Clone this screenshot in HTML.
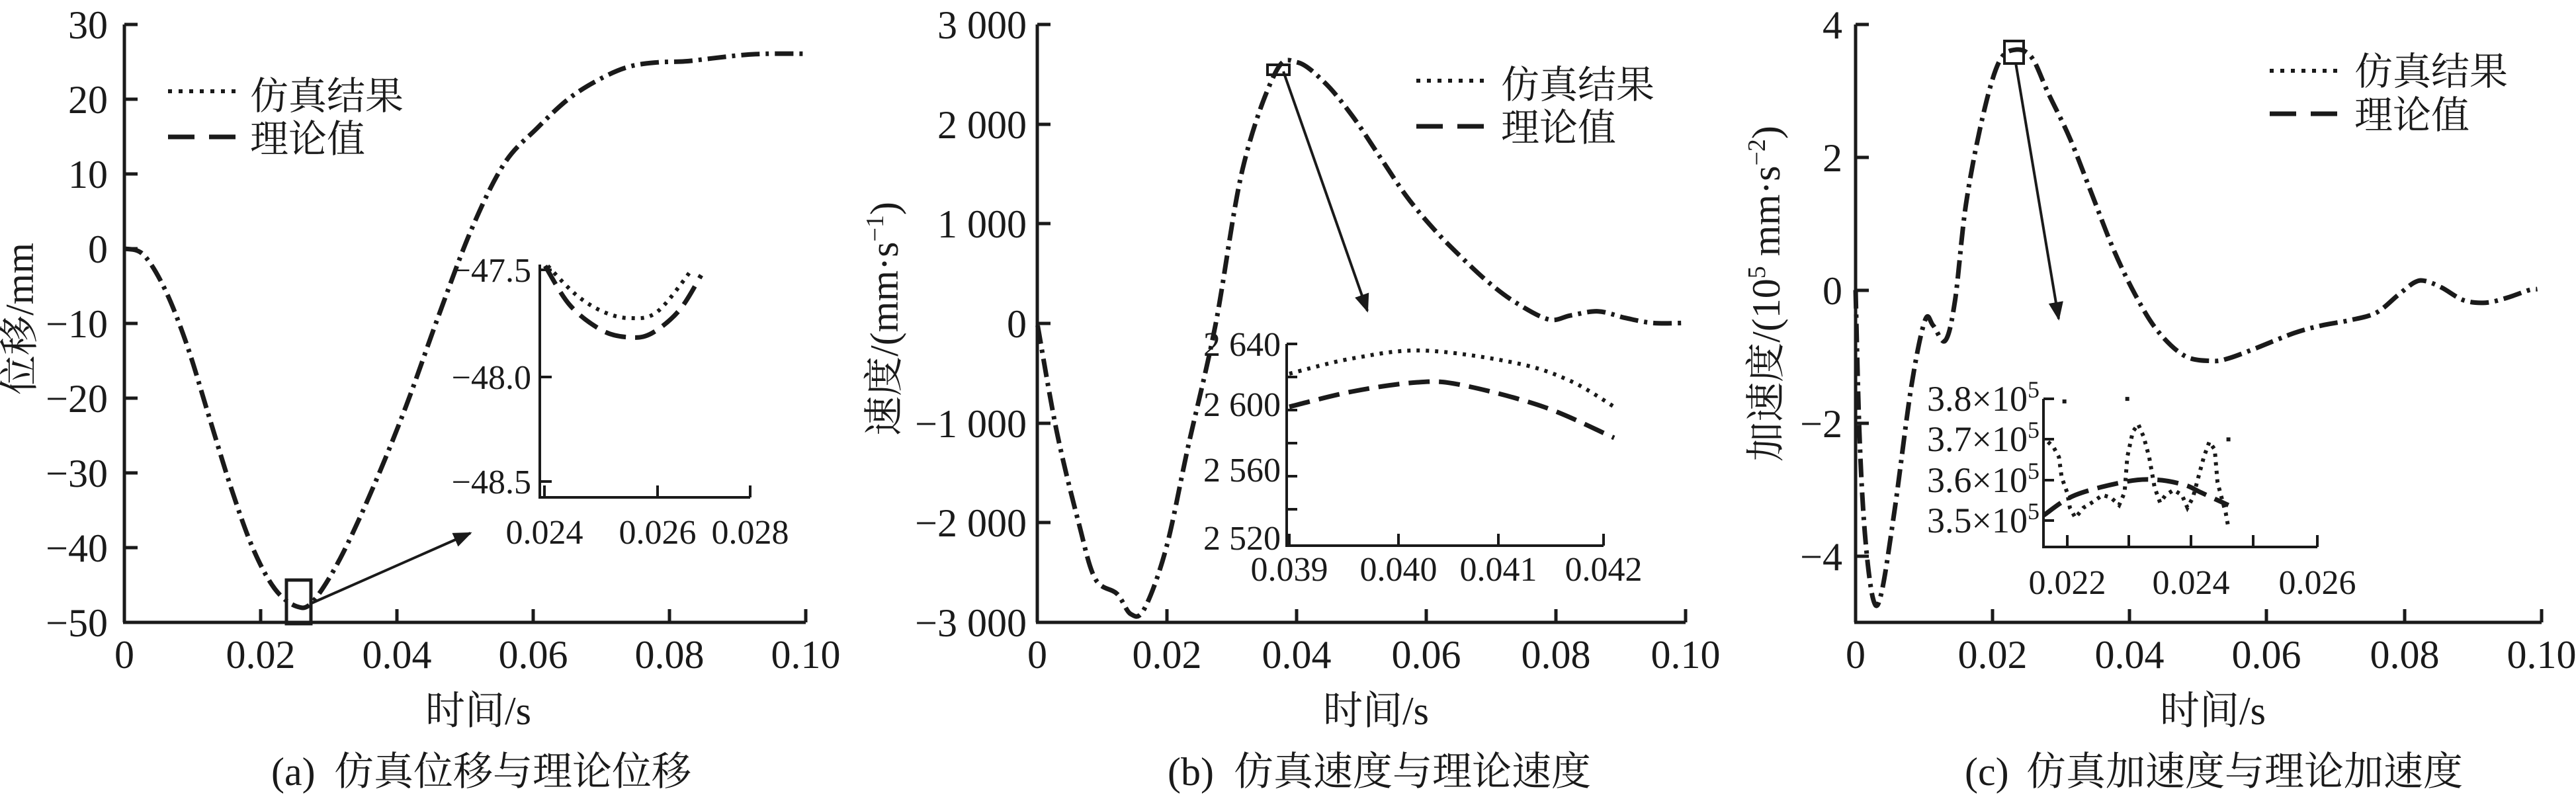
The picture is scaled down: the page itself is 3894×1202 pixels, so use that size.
<!DOCTYPE html>
<html><head><meta charset="utf-8"><style>
html,body{margin:0;padding:0;background:#fff}
svg{display:block}
text{font-family:"Liberation Serif","Noto Serif CJK SC",serif;fill:#1a1a1a}
.cj{font-family:"Liberation Serif","Noto Serif CJK SC","Noto Sans CJK SC",serif}
</style></head><body>
<svg id="s" width="3894" height="1202" viewBox="0 0 3894 1202" xmlns="http://www.w3.org/2000/svg">
<defs><marker id="ar" viewBox="0 0 10 10" refX="9" refY="5" markerWidth="7" markerHeight="7" orient="auto"><path d="M0,1 L10,5 L0,9 z" fill="#1a1a1a"/></marker></defs>
<g id="g" stroke="#1a1a1a" fill="none"></g>
<g font-size="60">
<g text-anchor="end">
<text x="163" y="58">30</text><text x="163" y="171">20</text><text x="163" y="284">10</text><text x="163" y="397">0</text>
<text x="163" y="510">−10</text><text x="163" y="623">−20</text><text x="163" y="736">−30</text><text x="163" y="849">−40</text><text x="163" y="962">−50</text>
</g>
<g text-anchor="middle">
<text x="188" y="1010">0</text><text x="394" y="1010">0.02</text><text x="600" y="1010">0.04</text><text x="806" y="1010">0.06</text><text x="1012" y="1010">0.08</text><text x="1218" y="1010">0.10</text>
<text class="cj" x="723" y="1095">时间/s</text>
</g>
<text class="cj" x="410" y="1187">(a)</text><text class="cj" x="505" y="1187">仿真位移与理论位移</text>
<text class="cj" transform="translate(50,482) rotate(-90)" text-anchor="middle">位移/mm</text>
<text class="cj" x="378" y="165" font-size="58">仿真结果</text><text class="cj" x="378" y="230" font-size="58">理论值</text>
<g font-size="52" text-anchor="end"><text x="803" y="426">−47.5</text><text x="803" y="588">−48.0</text><text x="803" y="746">−48.5</text></g>
<g font-size="52" text-anchor="middle"><text x="823" y="822">0.024</text><text x="994" y="822">0.026</text><text x="1134" y="822">0.028</text></g>

<g text-anchor="end">
<text x="1552" y="58">3 000</text><text x="1552" y="209">2 000</text><text x="1552" y="359">1 000</text><text x="1552" y="510">0</text>
<text x="1552" y="661">−1 000</text><text x="1552" y="811">−2 000</text><text x="1552" y="962">−3 000</text>
</g>
<g text-anchor="middle">
<text x="1568" y="1010">0</text><text x="1764" y="1010">0.02</text><text x="1960" y="1010">0.04</text><text x="2156" y="1010">0.06</text><text x="2352" y="1010">0.08</text><text x="2548" y="1010">0.10</text>
<text class="cj" x="2080" y="1095">时间/s</text>
</g>
<text class="cj" x="1765" y="1187">(b)</text><text class="cj" x="1865" y="1187">仿真速度与理论速度</text>
<text class="cj" transform="translate(1357,482) rotate(-90)" text-anchor="middle">速度/(mm·s<tspan dy="-22" font-size="38">−1</tspan><tspan dy="22">)</tspan></text>
<text class="cj" x="2269" y="148" font-size="58">仿真结果</text><text class="cj" x="2269" y="213" font-size="58">理论值</text>
<g font-size="52" text-anchor="end"><text x="1936" y="538">2 640</text><text x="1936" y="629">2 600</text><text x="1936" y="728">2 560</text><text x="1936" y="831">2 520</text></g>
<g font-size="52" text-anchor="middle"><text x="1949" y="878">0.039</text><text x="2114" y="878">0.040</text><text x="2265" y="878">0.041</text><text x="2424" y="878">0.042</text></g>

<g text-anchor="end">
<text x="2785" y="58">4</text><text x="2785" y="259">2</text><text x="2785" y="460">0</text><text x="2785" y="661">−2</text><text x="2785" y="862">−4</text>
</g>
<g text-anchor="middle">
<text x="2805" y="1010">0</text><text x="3012" y="1010">0.02</text><text x="3219" y="1010">0.04</text><text x="3426" y="1010">0.06</text><text x="3635" y="1010">0.08</text><text x="3842" y="1010">0.10</text>
<text class="cj" x="3345" y="1095">时间/s</text>
</g>
<text class="cj" x="2970" y="1187">(c)</text><text class="cj" x="3063" y="1187">仿真加速度与理论加速度</text>
<text class="cj" transform="translate(2690,444) rotate(-90)" text-anchor="middle">加速度/(10<tspan dy="-22" font-size="38">5</tspan><tspan dy="22"> mm·s</tspan><tspan dy="-22" font-size="38">−2</tspan><tspan dy="22">)</tspan></text>
<text class="cj" x="3559" y="128" font-size="58">仿真结果</text><text class="cj" x="3559" y="194" font-size="58">理论值</text>
<g font-size="54" text-anchor="end">
<text x="3083" y="621">3.8×10<tspan dy="-20" font-size="36">5</tspan></text>
<text x="3083" y="682">3.7×10<tspan dy="-20" font-size="36">5</tspan></text>
<text x="3083" y="744">3.6×10<tspan dy="-20" font-size="36">5</tspan></text>
<text x="3083" y="805">3.5×10<tspan dy="-20" font-size="36">5</tspan></text>
</g>
<g font-size="52" text-anchor="middle"><text x="3125" y="898">0.022</text><text x="3312" y="898">0.024</text><text x="3503" y="898">0.026</text></g>
</g>
</svg>
<script>
var g=document.getElementById('g');
function el(n,a){var e=document.createElementNS('http://www.w3.org/2000/svg',n);for(var k in a)e.setAttribute(k,a[k]);g.appendChild(e);return e;}
function line(x1,y1,x2,y2,w,extra){var a={x1:x1,y1:y1,x2:x2,y2:y2,'stroke-width':w||5};for(var k in extra)a[k]=extra[k];return el('line',a);}
function cr(p){var d='M'+p[0][0]+','+p[0][1];for(var i=0;i<p.length-1;i++){var p0=p[i-1]||p[i],p1=p[i],p2=p[i+1],p3=p[i+2]||p2;
d+=' C'+(p1[0]+(p2[0]-p0[0])/6).toFixed(1)+','+(p1[1]+(p2[1]-p0[1])/6).toFixed(1)+' '+(p2[0]-(p3[0]-p1[0])/6).toFixed(1)+','+(p2[1]-(p3[1]-p1[1])/6).toFixed(1)+' '+p2[0]+','+p2[1];}return d;}
var SX=1.21,SY=1.307;
function conv(pts,ox){return pts.map(function(q){return [+(ox+q[0]/SX).toFixed(1),+(q[1]/SY+2.5).toFixed(1)];});}
function axes(x0,x1,y0,y1,xt,yt){line(x0,y0,x0,y1,5);line(x0-2,y1,x1,y1,5);
xt.forEach(function(x){line(x,y1,x,y1-20,5)});yt.forEach(function(y){line(x0,y,x0+20,y,5)});}
function dd(d,w){el('path',{d:d,'stroke-width':w||7,'stroke-dasharray':'28 9 5 9','stroke-linecap':'butt'});}
function dot(d,w){el('path',{d:d,'stroke-width':w||6,'stroke-dasharray':'5 9'});}
function dash(d,w){el('path',{d:d,'stroke-width':w||7,'stroke-dasharray':'32 14'});}
// Panel a
axes(188,1218,37,941,[394,600,806,1012,1218],[37,150,263,376,489,602,715,828,941]);
dd(cr(conv([[225,488],[260,500],[300,570],[340,680],[380,820],[420,960],[460,1080],[500,1160],[540,1195],[570,1185],[620,1100],[680,960],[740,800],[800,620],[860,450],[920,320],[980,250],[1040,190],[1100,150],[1150,128],[1200,120],[1250,118],[1300,112],[1350,106],[1400,103],[1475,103]],2)));
line(254,138,362,138,6,{'stroke-dasharray':'6 10'});line(254,207,362,207,7,{'stroke-dasharray':'40 22'});
el('rect',{x:433,y:877,width:37,height:66,'stroke-width':5});
line(471,912,711,806,4,{'marker-end':'url(#ar)'});
line(816,400,816,752,4);line(814,752,1134,752,4);
[823,994,1134].forEach(function(x){line(x,752,x,734,4)});[408,570,728].forEach(function(y){line(816,y,834,y,4)});
dot(cr([[828,402],[870,445],[911,471],[952,481],[994,471],[1047,406]]),6);
dash(cr([[824,402],[862,462],[911,500],[952,510],[985,504],[1027,469],[1060,416]]),7);
// Panel b
axes(1568,2548,37,941,[1764,1960,2156,2352,2548],[37,188,338,489,640,790,941]);
dd(cr(conv([[325,640],[360,850],[400,1030],[430,1140],[470,1170],[495,1210],[520,1200],[560,1080],[600,880],[650,640],[700,330],[760,140],[800,120],[850,160],[900,225],[950,305],[1000,385],[1050,450],[1100,505],[1150,555],[1200,595],[1260,628],[1300,620],[1350,612],[1400,625],[1450,635],[1510,635]],1300)));
line(2141,122,2252,122,6,{'stroke-dasharray':'6 10'});line(2141,191,2252,191,7,{'stroke-dasharray':'40 22'});
el('rect',{x:1916,y:98,width:33,height:15,'stroke-width':4});
line(1940,108,2067,470,4,{'marker-end':'url(#ar)'});
line(1945,520,1945,825,4);line(1943,825,2424,825,4);
[1949,2114,2265,2424].forEach(function(x){line(x,825,x,807,4)});
for(var y=520;y<=815;y+=50)line(1945,y,1961,y,4);
dot(cr([[1949,565],[2044,542],[2151,530],[2292,549],[2374,576],[2440,615]]),6);
dash(cr([[1949,615],[2044,592],[2143,578],[2209,582],[2333,615],[2440,662]]),7);
// Panel c
axes(2805,3842,37,941,[3012,3219,3426,3635,3842],[37,238,439,640,841]);
dd(cr(conv([[248,570],[255,850],[265,1050],[280,1180],[295,1170],[320,1000],[350,760],[375,630],[390,640],[412,670],[430,590],[450,400],[480,230],[510,120],[540,95],[570,110],[600,180],[640,270],[680,380],[720,490],[760,580],[800,650],[850,700],[900,710],[930,705],[980,685],[1050,655],[1100,640],[1150,630],[1200,615],[1240,580],[1270,555],[1290,552],[1320,565],[1360,590],[1400,595],[1440,585],[1480,570],[1495,568]],2600)));
line(3431,107,3542,107,6,{'stroke-dasharray':'6 10'});line(3431,172,3542,172,7,{'stroke-dasharray':'40 22'});
el('rect',{x:3030,y:62,width:29,height:34,'stroke-width':4});
line(3047,95,3112,482,4,{'marker-end':'url(#ar)'});
line(3089,603,3089,827,4);line(3087,827,3503,827,4);
[3125,3218,3312,3406,3503].forEach(function(x){line(x,827,x,809,4)});
[603,664,726,787].forEach(function(y){line(3089,y,3105,y,4)});
var dp=conv([[600,870],[610,880],[620,900],[625,940],[635,970],[640,1000],[650,1020],[665,1000],[680,990],[700,975],[715,980],[730,995],[740,970],[745,900],[755,850],[765,835],[775,860],[785,900],[795,960],[805,990],[815,975],[830,965],[845,975],[855,1000],[865,980],[875,940],[885,900],[895,870],[905,885],[910,950],[920,990],[925,1010],[930,1040]],2600);
el('polyline',{points:dp.join(' '),'stroke-width':6,'stroke-dasharray':'5 8'});
[[630,790],[745,785],[930,865]].forEach(function(q){var x=2600+q[0]/SX,y=q[1]/SY+2.5;el('rect',{x:x-3,y:y-3,width:6,height:6,fill:'#1a1a1a','stroke-width':0});});
dash(cr(conv([[592,1015],[650,975],[745,948],[800,945],[850,955],[880,970],[930,995]],2600)),7);
</script>
</body></html>
